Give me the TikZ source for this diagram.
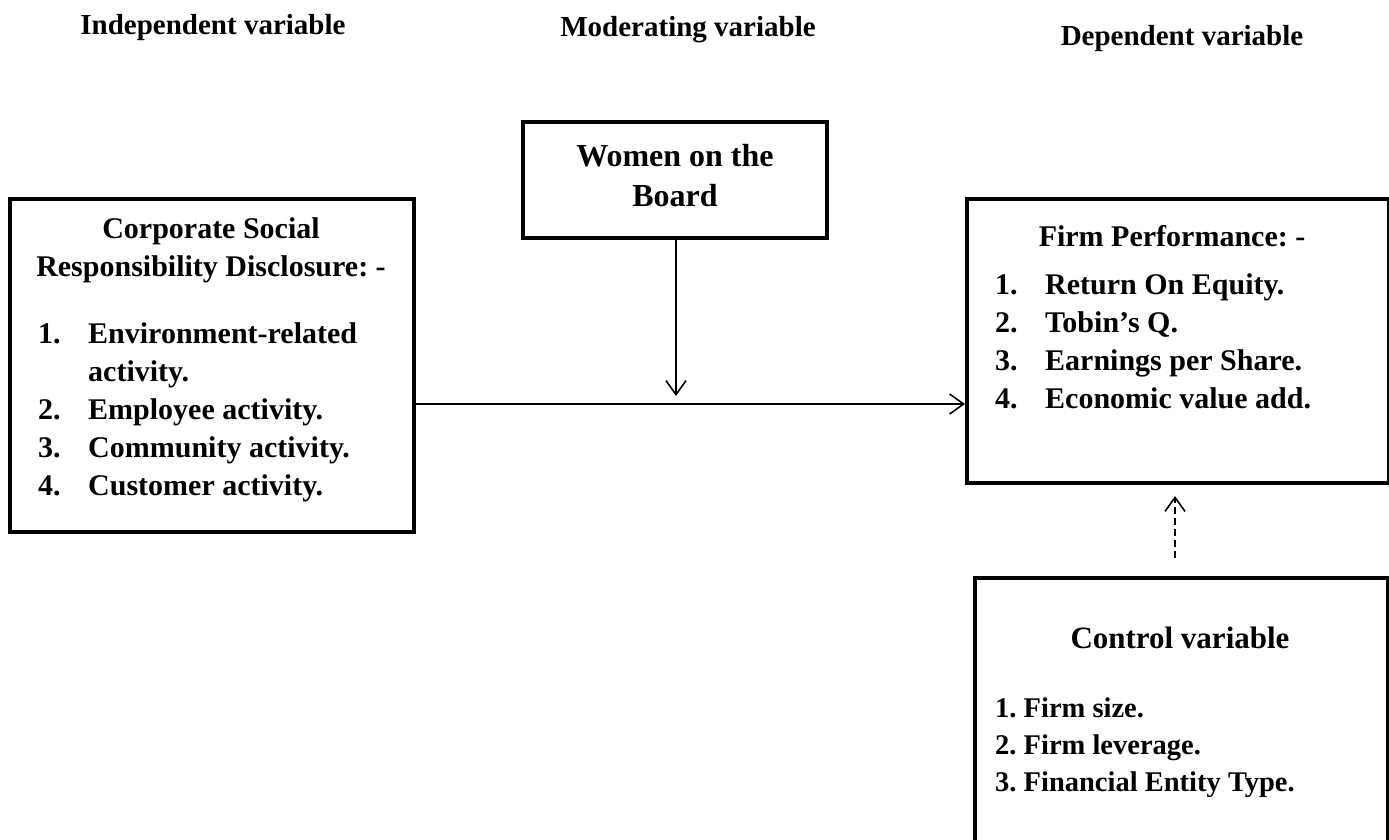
\documentclass[tikz,border=0pt]{standalone}
\usepackage{fontspec}
\setmainfont{Liberation Serif}
\usetikzlibrary{arrows.meta}
\frenchspacing
\begin{document}
\begin{tikzpicture}[x=1pt,y=-1pt,
  box/.style={draw, line width=4pt, rectangle, anchor=north west, inner sep=0pt},
  head/.style={font=\fontsize{29}{34}\selectfont\bfseries, inner sep=0pt, anchor=base},
  ttl/.style={font=\fontsize{30}{36}\selectfont\bfseries, inner sep=0pt, anchor=base},
  itm/.style={font=\fontsize{30}{36}\selectfont\bfseries, inner sep=0pt, anchor=base west},
  sml/.style={font=\fontsize{28.5}{34}\selectfont\bfseries, inner sep=0pt, anchor=base west},
  conn/.style={line width=1.6pt, -{Straight Barb[length=14pt,width=20pt,line width=1.6pt]}}
]
\clip (0,0) rectangle (1389,839);
\fill[white] (0,0) rectangle (1389,839);

% headers
\node[head] (h1) at (213,34) {Independent variable};
\node[head] (h2) at (688,36) {Moderating variable};
\node[head] (h3) at (1182,45) {Dependent variable};

% boxes
\node[box, minimum width=404pt, minimum height=333pt] (ind) at (8,197) {};
\node[box, minimum width=304pt, minimum height=116pt] (mod) at (521,120) {};
\node[box, minimum width=422pt, minimum height=284pt] (dep) at (965,197) {};
\node[box, minimum width=413pt, minimum height=300pt] (ctl) at (973,576) {};

% independent box text
\node[ttl] (i0) at (211,238) {Corporate Social};
\node[ttl] (i0b) at (211,276) {Responsibility Disclosure: -};
\node[itm] (n1) at (38,343) {1.};
\node[itm] (t1) at (88,343) {Environment-related};
\node[itm] (t1b) at (88,381) {activity.};
\node[itm] (n2) at (38,419) {2.};
\node[itm] (t2) at (88,419) {Employee activity.};
\node[itm] (n3) at (38,457) {3.};
\node[itm] (t3) at (88,457) {Community activity.};
\node[itm] (n4) at (38,495) {4.};
\node[itm] (t4) at (88,495) {Customer activity.};

% moderating box text
\node[font=\fontsize{32}{38}\selectfont\bfseries, inner sep=0pt, anchor=base] (m1) at (675,166) {Women on the};
\node[font=\fontsize{32}{38}\selectfont\bfseries, inner sep=0pt, anchor=base] (m2) at (675,206) {Board};

% dependent box text
\node[ttl] (d0) at (1172,246) {Firm Performance: -};
\node[itm] (dn1) at (995,294) {1.};
\node[itm] (dt1) at (1045,294) {Return On Equity.};
\node[itm] (dn2) at (995,332) {2.};
\node[itm] (dt2) at (1045,332) {Tobin’s Q.};
\node[itm] (dn3) at (995,370) {3.};
\node[itm] (dt3) at (1045,370) {Earnings per Share.};
\node[itm] (dn4) at (995,408) {4.};
\node[itm] (dt4) at (1045,408) {Economic value add.};

% control box text
\node[font=\fontsize{31}{37}\selectfont\bfseries, inner sep=0pt, anchor=base] (c0) at (1180,648) {Control variable};
\node[sml] (c1) at (995,717) {1. Firm size.};
\node[sml] (c2) at (995,754) {2. Firm leverage.};
\node[sml] (c3) at (995,791) {3. Financial Entity Type.};

% connectors
\coordinate (modtip) at (676,396);
\coordinate (ctltail) at (1175,558);
\coordinate (ctltip) at (1175,496);
\draw[conn] (ind.east |- 0,404) -- (dep.west |- 0,404);
\draw[conn] (mod.south -| modtip) -- (modtip);
\draw[conn, dash pattern=on 7pt off 4pt] (ctltail) -- (ctltip);
\end{tikzpicture}
\end{document}
